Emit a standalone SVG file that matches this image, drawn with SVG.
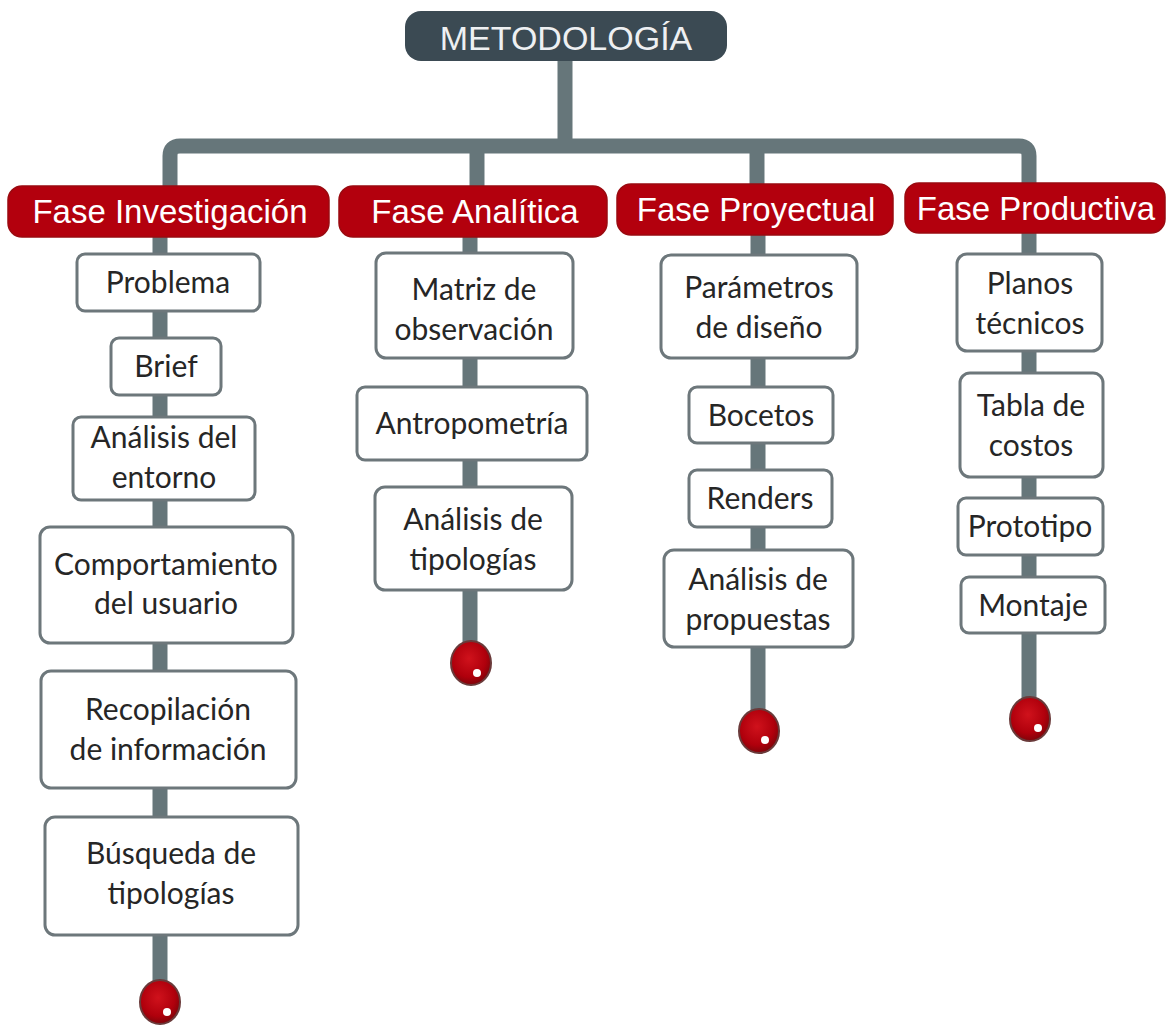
<svg xmlns="http://www.w3.org/2000/svg" width="1169" height="1026" viewBox="0 0 1169 1026">
<defs>
<style>
.conn{fill:none;stroke:#66767a;stroke-width:15;stroke-linecap:butt}
.box{fill:#ffffff;stroke:#6d777b;stroke-width:3}
.fase{fill:#b3000d;stroke:#9a0a10;stroke-width:1.5}
.ft{font-family:"Liberation Sans",Arial,sans-serif;font-size:33px;fill:#ffffff;text-anchor:middle}
.tt{font-family:"Liberation Sans",Arial,sans-serif;font-size:34px;fill:#eef0f2;text-anchor:middle}
.nt{font-family:Lato,"Open Sans",sans-serif;font-size:30px;fill:#262626;text-anchor:middle}
.dot{fill:url(#rg);stroke:#6a3a3a;stroke-width:2}
.hl{fill:#ffffff}
</style>
<radialGradient id="rg" cx="0.45" cy="0.4" r="0.6">
<stop offset="0" stop-color="#d0121c"/>
<stop offset="0.7" stop-color="#b0000c"/>
<stop offset="1" stop-color="#80040a"/>
</radialGradient>
</defs>
<rect width="1169" height="1026" fill="#ffffff"/>
<g id="connectors">
<path class="conn" d="M565 60 V146"/>
<path class="conn" d="M170 186 V156 Q170 146 180 146 H1019 Q1029 146 1029 156 V186"/>
<path class="conn" d="M477 146 V186"/>
<path class="conn" d="M757 146 V186"/>
<path class="conn" d="M160 236 V990"/>
<path class="conn" d="M470 236 V650"/>
<path class="conn" d="M758 234 V715"/>
<path class="conn" d="M1029 232 V705"/>
</g>
<g id="title">
<rect x="405" y="11" width="322" height="50" rx="16" fill="#3b4a53"/>
<text class="tt" x="566" y="50">METODOLOGÍA</text>
</g>
<g id="fase-investigacion">
<rect class="fase" x="8" y="186" width="321" height="51" rx="14"/>
<text class="ft" x="170" y="223">Fase Investigación</text>
</g>
<g id="fase-analitica">
<rect class="fase" x="339" y="186" width="268" height="51" rx="14"/>
<text class="ft" x="475" y="223">Fase Analítica</text>
</g>
<g id="fase-proyectual">
<rect class="fase" x="617" y="184" width="276" height="51" rx="14"/>
<text class="ft" x="756" y="221">Fase Proyectual</text>
</g>
<g id="fase-productiva">
<rect class="fase" x="905" y="183" width="260" height="50" rx="14"/>
<text class="ft" x="1036" y="220">Fase Productiva</text>
</g>
<g id="problema">
<rect class="box" x="77" y="254" width="183" height="57" rx="8"/>
<text class="nt" x="168" y="293">Problema</text>
</g>
<g id="brief">
<rect class="box" x="111" y="338" width="110" height="57" rx="8"/>
<text class="nt" x="166" y="377">Brief</text>
</g>
<g id="analisis-entorno">
<rect class="box" x="73" y="417" width="182" height="83" rx="8"/>
<text class="nt" x="164" y="448">Análisis del</text>
<text class="nt" x="164" y="488">entorno</text>
</g>
<g id="comportamiento">
<rect class="box" x="40" y="527" width="253" height="116" rx="10"/>
<text class="nt" x="166" y="575">Comportamiento</text>
<text class="nt" x="166" y="614">del usuario</text>
</g>
<g id="recopilacion">
<rect class="box" x="41" y="671" width="255" height="117" rx="10"/>
<text class="nt" x="168" y="720">Recopilación</text>
<text class="nt" x="168" y="760">de información</text>
</g>
<g id="busqueda">
<rect class="box" x="45" y="817" width="253" height="118" rx="10"/>
<text class="nt" x="171" y="864">Búsqueda de</text>
<text class="nt" x="171" y="904">tipologías</text>
</g>
<g id="matriz">
<rect class="box" x="376" y="253" width="197" height="105" rx="10"/>
<text class="nt" x="474" y="300">Matriz de</text>
<text class="nt" x="474" y="340">observación</text>
</g>
<g id="antropometria">
<rect class="box" x="357" y="387" width="230" height="73" rx="8"/>
<text class="nt" x="472" y="434">Antropometría</text>
</g>
<g id="analisis-tipologias">
<rect class="box" x="375" y="487" width="197" height="103" rx="10"/>
<text class="nt" x="473" y="530">Análisis de</text>
<text class="nt" x="473" y="570">tipologías</text>
</g>
<g id="parametros">
<rect class="box" x="661" y="255" width="196" height="103" rx="10"/>
<text class="nt" x="759" y="298">Parámetros</text>
<text class="nt" x="759" y="338">de diseño</text>
</g>
<g id="bocetos">
<rect class="box" x="689" y="387" width="144" height="56" rx="8"/>
<text class="nt" x="761" y="426">Bocetos</text>
</g>
<g id="renders">
<rect class="box" x="689" y="470" width="143" height="57" rx="8"/>
<text class="nt" x="760" y="509">Renders</text>
</g>
<g id="analisis-propuestas">
<rect class="box" x="664" y="550" width="189" height="97" rx="10"/>
<text class="nt" x="758" y="590">Análisis de</text>
<text class="nt" x="758" y="630">propuestas</text>
</g>
<g id="planos">
<rect class="box" x="957" y="254" width="145" height="97" rx="10"/>
<text class="nt" x="1030" y="294">Planos</text>
<text class="nt" x="1030" y="334">técnicos</text>
</g>
<g id="tabla">
<rect class="box" x="960" y="373" width="143" height="104" rx="10"/>
<text class="nt" x="1031" y="416">Tabla de</text>
<text class="nt" x="1031" y="456">costos</text>
</g>
<g id="prototipo">
<rect class="box" x="958" y="498" width="145" height="57" rx="8"/>
<text class="nt" x="1030" y="537">Prototipo</text>
</g>
<g id="montaje">
<rect class="box" x="961" y="577" width="144" height="56" rx="8"/>
<text class="nt" x="1033" y="616">Montaje</text>
</g>
<g id="end-investigacion">
<ellipse class="dot" cx="160" cy="1002" rx="20" ry="22"/>
<circle class="hl" cx="167" cy="1012" r="4"/>
</g>
<g id="end-analitica">
<ellipse class="dot" cx="471" cy="663" rx="20" ry="22"/>
<circle class="hl" cx="477" cy="673" r="4"/>
</g>
<g id="end-proyectual">
<ellipse class="dot" cx="759" cy="731" rx="20" ry="22"/>
<circle class="hl" cx="765" cy="740" r="4"/>
</g>
<g id="end-productiva">
<ellipse class="dot" cx="1030" cy="719" rx="20" ry="22"/>
<circle class="hl" cx="1038" cy="728" r="4"/>
</g>
</svg>
